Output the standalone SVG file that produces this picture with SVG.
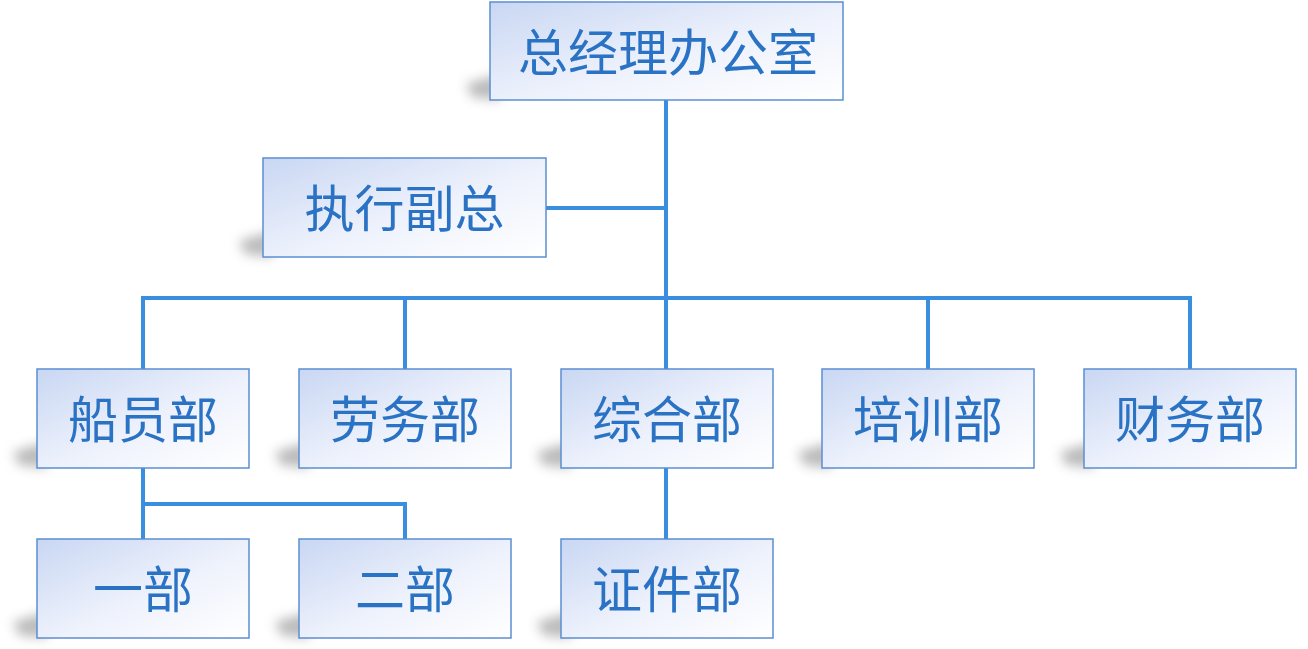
<svg xmlns="http://www.w3.org/2000/svg" width="1308" height="649" viewBox="0 0 1308 649">
<defs>
<linearGradient id="g" x1="0" y1="0" x2="1" y2="1">
<stop offset="0" stop-color="#c9d7f3"/>
<stop offset="0.55" stop-color="#eef2fc"/>
<stop offset="1" stop-color="#ffffff"/>
</linearGradient>
<filter id="sh" x="-50%" y="-200%" width="200%" height="500%">
<feGaussianBlur stdDeviation="6"/>
</filter>
</defs>
<style>
.box{fill:url(#g);stroke:#5b8fd2;stroke-width:1.5}
.shadow{fill:#777;opacity:0.5;filter:url(#sh)}
.t{font-family:"Noto Sans CJK SC",sans-serif;font-size:50px;fill:#2a72c4;text-anchor:middle;dominant-baseline:central}
.c{stroke:#3a8ee0;stroke-width:4;fill:none;stroke-linecap:square}
</style>
<rect width="1308" height="649" fill="#ffffff"/>
<g id="connectors">
<path class="c" d="M666 100V369M546 208H666M143 298H1190M143 298V369M405 298V369M928 298V369M1190 298V369M143 468V539M143 504H405V539M666 468V539"/>
</g>
<g id="n-top">
<path class="shadow" d="M466 84 L500 74 L500 100 L472 97 Z"/>
<rect class="box" x="490" y="2" width="353" height="98"/>
<text class="t" x="668" y="49">总经理办公室</text>
</g>
<g id="n-exec">
<path class="shadow" d="M239 241 L273 231 L273 257 L245 254 Z"/>
<rect class="box" x="263" y="158" width="283" height="99"/>
<text class="t" x="404.5" y="205">执行副总</text>
</g>
<g id="n-crew">
<path class="shadow" d="M13 452 L47 442 L47 468 L19 465 Z"/>
<rect class="box" x="37" y="369" width="212" height="99"/>
<text class="t" x="143" y="416">船员部</text>
</g>
<g id="n-labor">
<path class="shadow" d="M275 452 L309 442 L309 468 L281 465 Z"/>
<rect class="box" x="299" y="369" width="212" height="99"/>
<text class="t" x="405" y="416">劳务部</text>
</g>
<g id="n-general">
<path class="shadow" d="M537 452 L571 442 L571 468 L543 465 Z"/>
<rect class="box" x="561" y="369" width="212" height="99"/>
<text class="t" x="667" y="416">综合部</text>
</g>
<g id="n-training">
<path class="shadow" d="M798 452 L832 442 L832 468 L804 465 Z"/>
<rect class="box" x="822" y="369" width="212" height="99"/>
<text class="t" x="928" y="416">培训部</text>
</g>
<g id="n-finance">
<path class="shadow" d="M1060 452 L1094 442 L1094 468 L1066 465 Z"/>
<rect class="box" x="1084" y="369" width="212" height="99"/>
<text class="t" x="1190" y="416">财务部</text>
</g>
<g id="n-dept1">
<path class="shadow" d="M13 622 L47 612 L47 638 L19 635 Z"/>
<rect class="box" x="37" y="539" width="212" height="99"/>
<text class="t" x="143" y="586">一部</text>
</g>
<g id="n-dept2">
<path class="shadow" d="M275 622 L309 612 L309 638 L281 635 Z"/>
<rect class="box" x="299" y="539" width="212" height="99"/>
<text class="t" x="405" y="586">二部</text>
</g>
<g id="n-cert">
<path class="shadow" d="M537 622 L571 612 L571 638 L543 635 Z"/>
<rect class="box" x="561" y="539" width="212" height="99"/>
<text class="t" x="667" y="586">证件部</text>
</g>
</svg>
